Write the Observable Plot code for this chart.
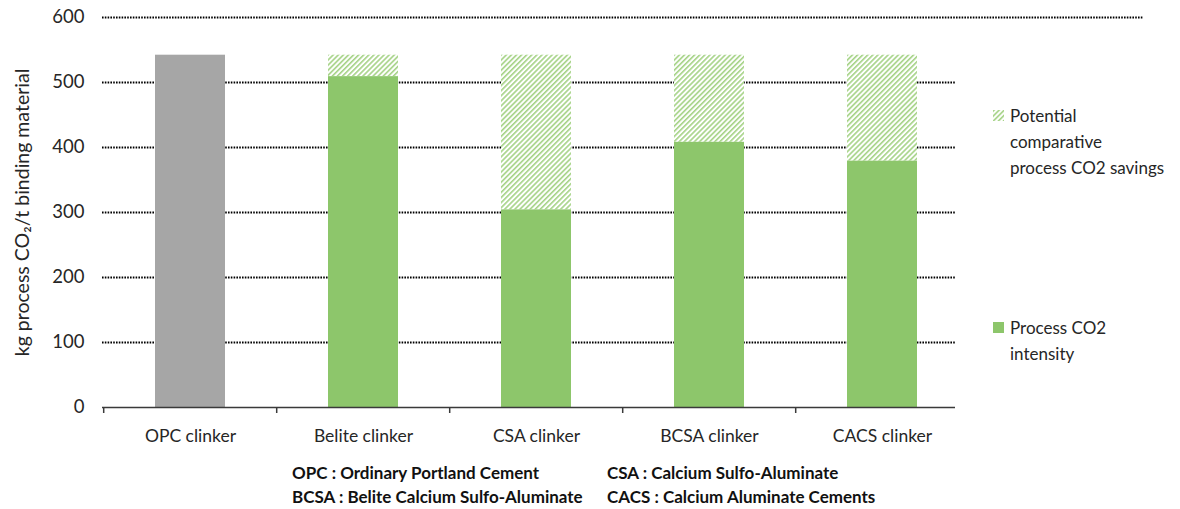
<!DOCTYPE html>
<html>
<head>
<meta charset="utf-8">
<script src="https://cdn.jsdelivr.net/npm/d3@7"></script>
<script src="https://cdn.jsdelivr.net/npm/@observablehq/plot@0.6"></script>
<style>
  html, body { margin: 0; padding: 0; background: #fff; }
  #wrap { position: relative; width: 1180px; height: 509px; font-family: Lato, "Open Sans", sans-serif; color: #262626; }
  .legend { position: absolute; left: 993px; font-size: 17px; line-height: 26px; }
  .legend .sw { position: absolute; left: 0; width: 11px; height: 11px; }
  .legend .txt { position: absolute; left: 17px; white-space: nowrap; }
  #caption { position: absolute; left: 292px; top: 461px; display: grid; grid-template-columns: 315px auto; font-weight: bold; font-size: 17px; line-height: 24px; color: #111; white-space: nowrap; }
</style>
</head>
<body>
<div id="wrap">
  <div id="chart"></div>
  <div class="legend" style="top:103px;">
    <svg class="sw" style="top:7px;" width="11" height="11"><rect width="11" height="11" fill="url(#hatchLegend)"/></svg>
    <div class="txt">Potential<br>comparative<br>process CO2 savings</div>
  </div>
  <div class="legend" style="top:315px;">
    <div class="sw" style="top:7px;background:#8dc66b;"></div>
    <div class="txt">Process CO2<br>intensity</div>
  </div>
  <div id="caption">
    <div>OPC : Ordinary Portland Cement</div><div>CSA : Calcium Sulfo-Aluminate</div>
    <div>BCSA : Belite Calcium Sulfo-Aluminate</div><div>CACS : Calcium Aluminate Cements</div>
  </div>
</div>
<script>
// ---- data ----
const categories = ["OPC clinker", "Belite clinker", "CSA clinker", "BCSA clinker", "CACS clinker"];
const kinds = ["reference", "alternative", "alternative", "alternative", "alternative"];
const intensity = [542, 509, 304, 408, 379];
const opcLevel = 542;
const yTicks = [0, 100, 200, 300, 400, 500, 600];
const gridTicks = [100, 200, 300, 400, 500];

const rows = categories.map((c, i) => ({category: c, kind: kinds[i], value: intensity[i], ref: opcLevel}));

// ---- layout ----
const W = 1180, H = 450, ML = 102, MR = 225, MT = 17, MB = 43;
const xRange = [ML, 970];
const step = (xRange[1] - xRange[0]) / categories.length;

const green = "#8dc66b", gray = "#a6a6a6", hatchColor = "#a5d386";

const chart = Plot.plot({
  width: W, height: H,
  marginLeft: ML, marginRight: MR, marginTop: MT, marginBottom: MB,
  style: {fontFamily: "Lato, 'Open Sans', sans-serif", fontSize: "17px", color: "#262626", background: "#fff", overflow: "visible"},
  x: {domain: categories, range: xRange, paddingInner: 0.597, paddingOuter: 0.2985},
  y: {domain: [0, 600]},
  color: {domain: ["reference", "alternative"], range: [gray, green]},
  marks: [
    Plot.ruleY(gridTicks, {stroke: "#000", strokeWidth: 2, strokeDasharray: "1.6,1.2"}),
    Plot.ruleY([600], {stroke: "#000", strokeWidth: 2, strokeDasharray: "1.6,1.2", insetRight: -188}),
    Plot.barY(rows, {x: "category", y1: "value", y2: "ref", fill: "url(#hatch)"}),
    Plot.barY(rows, {x: "category", y1: 0, y2: "value", fill: "kind"}),
    Plot.ruleY([0], {stroke: "#3a3a3a", strokeWidth: 1.5}),
    Plot.ruleX(categories, {x: d => d, y1: 0, y2: 0, insetBottom: -6, dx: -step / 2, stroke: "#3a3a3a", strokeWidth: 1.5}),
    Plot.axisY({ticks: yTicks, tickSize: 0, tickPadding: 18, tickFormat: d3.format("d"), fontSize: 18.5,
      label: null}),
    Plot.axisY({ticks: [], tickSize: 0, label: "kg process CO₂/t binding material", labelAnchor: "center",
      labelArrow: "none", labelOffset: 87, fontSize: 19.5}),
    Plot.axisX({tickSize: 0, tickPadding: 22, label: null, fontSize: 17.5})
  ]
});

// hatch patterns
const svg = d3.select(chart);
const defs = svg.insert("defs", ":first-child");
const pat = defs.append("pattern").attr("id", "hatch").attr("patternUnits", "userSpaceOnUse")
  .attr("width", 3.6).attr("height", 3.6).attr("patternTransform", "rotate(45)");
pat.append("rect").attr("width", 3.6).attr("height", 3.6).attr("fill", "#fff");
pat.append("line").attr("x1", 0.8).attr("y1", 0).attr("x2", 0.8).attr("y2", 3.6).attr("stroke", hatchColor).attr("stroke-width", 1.6);

document.getElementById("chart").appendChild(chart);

// legend hatch pattern (separate small svg)
const lsvg = d3.select(".legend svg");
const ldefs = lsvg.insert("defs", ":first-child");
const lp = ldefs.append("pattern").attr("id", "hatchLegend").attr("patternUnits", "userSpaceOnUse")
  .attr("width", 3.6).attr("height", 3.6).attr("patternTransform", "rotate(45)");
lp.append("rect").attr("width", 3.6).attr("height", 3.6).attr("fill", "#fff");
lp.append("line").attr("x1", 0.8).attr("y1", 0).attr("x2", 0.8).attr("y2", 3.6).attr("stroke", hatchColor).attr("stroke-width", 1.6);
</script>
</body>
</html>
